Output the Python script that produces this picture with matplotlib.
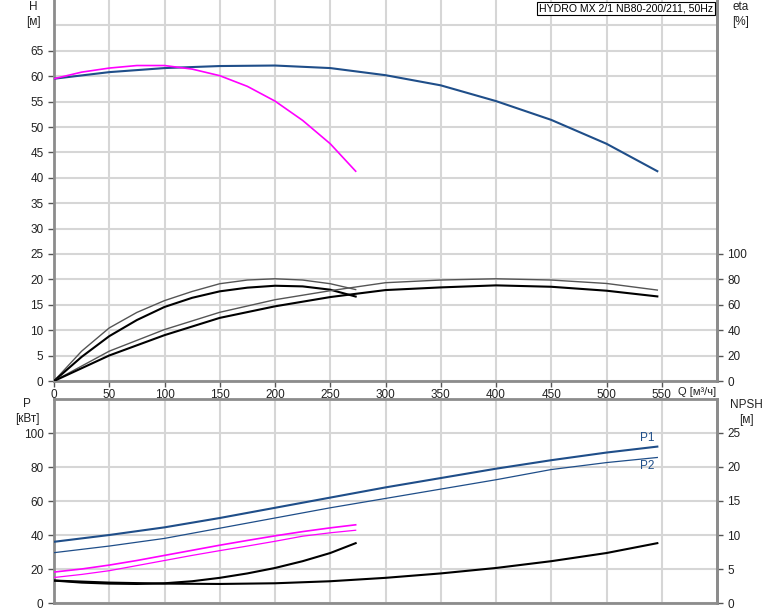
import matplotlib
matplotlib.use("Agg")
import matplotlib.pyplot as plt

plt.rcParams['font.family'] = ['Liberation Sans', 'DejaVu Sans']

# ---- data ----
q_one = [0, 25, 50, 75, 100, 125, 150, 175, 200, 225, 250, 273]
q_two = [0, 50, 100, 150, 200, 250, 300, 350, 400, 450, 500, 546]

h_one = [59.5, 60.8, 61.6, 62.1, 62.1, 61.4, 60.1, 58.0, 55.1, 51.3, 46.7, 41.3]
h_two = [59.5, 60.8, 61.6, 62.0, 62.1, 61.6, 60.2, 58.2, 55.1, 51.4, 46.7, 41.3]

eta_one_pump = [0, 23.5, 41.8, 54.0, 63.3, 70.5, 76.6, 79.5, 80.5, 79.5, 76.6, 72.0]
eta_one_total = [0, 19.0, 35.3, 48.0, 58.3, 65.5, 70.6, 73.5, 75.0, 74.5, 71.9, 66.5]
eta_two_pump = [0, 23.5, 40.5, 54.1, 64.0, 71.1, 77.4, 79.5, 80.5, 79.5, 76.8, 71.6]
eta_two_total = [0, 20.1, 36.1, 49.7, 58.8, 66.1, 71.6, 73.7, 75.3, 74.2, 71.1, 66.6]

p1_one = [18.2, 20.0, 22.3, 25.0, 28.0, 31.0, 34.0, 36.8, 39.5, 42.0, 44.2, 46.0]
p2_one = [15.0, 16.8, 19.0, 22.0, 25.0, 28.0, 30.8, 33.5, 36.3, 39.3, 41.3, 42.8]
p1_two = [36.0, 40.0, 44.5, 50.0, 56.0, 62.0, 68.0, 73.5, 79.0, 84.0, 88.5, 92.0]
p2_two = [29.6, 33.5, 38.0, 44.0, 50.0, 56.0, 61.5, 67.0, 72.5, 78.5, 82.6, 85.6]

npsh_one = [3.3, 3.0, 2.85, 2.8, 2.9, 3.2, 3.7, 4.35, 5.15, 6.15, 7.35, 8.8]
npsh_two = [3.3, 3.0, 2.85, 2.8, 2.9, 3.2, 3.7, 4.35, 5.15, 6.15, 7.35, 8.8]

x_ticks = list(range(0, 551, 50))
h_ticks = list(range(0, 66, 5))
eta_ticks = list(range(0, 101, 20))
p_ticks = list(range(0, 101, 20))
npsh_ticks = list(range(0, 26, 5))

title = "HYDRO MX 2/1 NB80-200/211, 50Hz"

# ---- styles ----
BLUE = '#1F4E89'
MAG = '#FF00FF'
GRID = '#D6D6D6'
SPINE = '#8C8C8C'
TXT = '#222222'

W, H = 774, 611
fig = plt.figure(figsize=(W / 100, H / 100), dpi=100)

L = 54 / W
R = 717 / W
ax1 = fig.add_axes([L, (H - 381) / H, R - L, 381 / H])
ax2 = fig.add_axes([L, (H - 603) / H, R - L, (603 - 399) / H])


def style(ax, top=True):
    ax.set_xlim(0, 600)
    for s in ['left', 'right', 'bottom', 'top']:
        ax.spines[s].set_color(SPINE)
        ax.spines[s].set_linewidth(2)
    ax.spines['top'].set_visible(top)
    ax.set_xticks(x_ticks)
    ax.grid(True, color=GRID, linewidth=1.5)
    ax.set_axisbelow(True)
    ax.tick_params(colors='#555555', labelcolor=TXT, labelsize=8.5, length=4, width=1)


# top panel
style(ax1, top=False)
ax1.set_ylim(0, 75)
ax1.set_yticks(h_ticks)
ax1.axhline(70, color=GRID, linewidth=1.5, zorder=0)
ax1.tick_params(axis='x', pad=2)

ax1.plot(q_two, h_two, color=BLUE, linewidth=1.5, zorder=3)
ax1.plot(q_one, h_one, color=MAG, linewidth=1.2, zorder=3)

ax1r = ax1.twinx()
ax1r.set_ylim(0, 300)
ax1r.set_yticks(eta_ticks)
ax1r.spines['right'].set_color(SPINE)
ax1r.spines['right'].set_linewidth(2)
for s in ['left', 'top', 'bottom']:
    ax1r.spines[s].set_visible(False)
ax1r.tick_params(colors='#555555', labelcolor=TXT, labelsize=8.5, length=4, width=1)

ax1r.plot(q_one, eta_one_pump, color='#555555', linewidth=1.0)
ax1r.plot(q_one, eta_one_total, color='black', linewidth=1.5)
ax1r.plot(q_two, eta_two_pump, color='#555555', linewidth=1.0)
ax1r.plot(q_two, eta_two_total, color='black', linewidth=1.5)

# bottom panel
style(ax2, top=True)
ax2.set_ylim(0, 120)
ax2.set_yticks(p_ticks)
ax2.tick_params(axis='x', labelbottom=False, length=0)

ax2.plot(q_two, p1_two, color=BLUE, linewidth=1.5, zorder=3)
ax2.plot(q_two, p2_two, color=BLUE, linewidth=0.9, zorder=3)
ax2.plot(q_one, p1_one, color=MAG, linewidth=1.2, zorder=3)
ax2.plot(q_one, p2_one, color=MAG, linewidth=0.9, zorder=3)
ax2.text(q_two[-1] - 3, p1_two[-1] + 1.5, "P1", color=BLUE, fontsize=8.5,
         ha='right', va='bottom')
ax2.text(q_two[-1] - 3, p2_two[-1] - 1.5, "P2", color=BLUE, fontsize=8.5,
         ha='right', va='top')

ax2r = ax2.twinx()
ax2r.set_ylim(0, 30)
ax2r.set_yticks(npsh_ticks)
ax2r.spines['right'].set_color(SPINE)
ax2r.spines['right'].set_linewidth(2)
for s in ['left', 'top', 'bottom']:
    ax2r.spines[s].set_visible(False)
ax2r.tick_params(colors='#555555', labelcolor=TXT, labelsize=8.5, length=4, width=1)
ax2r.plot(q_one, npsh_one, color='black', linewidth=1.5)
ax2r.plot(q_two, npsh_two, color='black', linewidth=1.5)

# labels
fs = 8.5
fig.text(33 / W, 1 - 1 / H, "H\n[м]", ha='center', va='top', fontsize=fs, color=TXT, linespacing=1.3)
fig.text(741 / W, 1 - 1 / H, "eta\n[%]", ha='center', va='top', fontsize=fs, color=TXT, linespacing=1.3)
fig.text(27 / W, 1 - 398 / H, "P\n[кВт]", ha='center', va='top', fontsize=fs, color=TXT, linespacing=1.3)
fig.text(746 / W, 1 - 399 / H, "NPSH\n[м]", ha='center', va='top', fontsize=fs, color=TXT, linespacing=1.3)
fig.text(678 / W, 1 - 392 / H, "Q [м³/ч]", ha='left', va='center', fontsize=8, color=TXT)

fig.text(713 / W, 1 - 3.5 / H, title, ha='right', va='top', fontsize=7.6, color='black',
         bbox=dict(facecolor='white', edgecolor='black', linewidth=0.8, boxstyle='square,pad=0.15'))

fig.savefig("out.png", dpi=100)
